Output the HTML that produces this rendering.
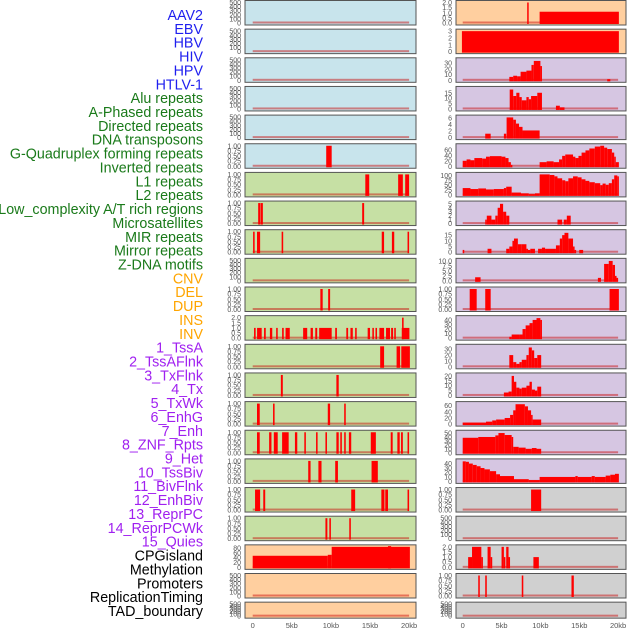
<!DOCTYPE html>
<html><head><meta charset="utf-8"><style>
body{margin:0;background:#fff;width:630px;height:630px;overflow:hidden}
svg{display:block}
text{font-family:"Liberation Sans",sans-serif}
</style></head><body>
<svg id="chart" width="630" height="630" xmlns="http://www.w3.org/2000/svg"></svg>
<script>
const labels=["AAV2","EBV","HBV","HIV","HPV","HTLV-1","Alu repeats","A-Phased repeats","Directed repeats","DNA transposons","G-Quadruplex forming repeats","Inverted repeats","L1 repeats","L2 repeats","Low_complexity A/T rich regions","Microsatellites","MIR repeats","Mirror repeats","Z-DNA motifs","CNV","DEL","DUP","INS","INV","1_TssA","2_TssAFlnk","3_TxFlnk","4_Tx","5_TxWk","6_EnhG","7_Enh","8_ZNF_Rpts","9_Het","10_TssBiv","11_BivFlnk","12_EnhBiv","13_ReprPC","14_ReprPCWk","15_Quies","CPGisland","Methylation","Promoters","ReplicationTiming","TAD_boundary"];
const labelGroups=[6,13,5,15,5];
const groupColors=["#1f1fef","#1a7a1a","#ffa500","#a020f0","#000000"];
const xTicks=[0,5,10,15,20];
const xTickLabels=["0","5kb","10kb","15kb","20kb"];
const T500=["0","100","200","300","400","500"];
const T1=["0.00","0.25","0.50","0.75","1.00"];
const T2=["0.0","0.5","1.0","1.5","2.0"];
const leftBg=["#c8e4ec","#c8e4ec","#c8e4ec","#c8e4ec","#c8e4ec","#c8e4ec","#c6e0a4","#c6e0a4","#c6e0a4","#c6e0a4","#c6e0a4","#c6e0a4","#c6e0a4","#c6e0a4","#c6e0a4","#c6e0a4","#c6e0a4","#c6e0a4","#c6e0a4","#ffcf9f","#ffcf9f","#ffcf9f"];
const rightBg=["#ffcf9f","#ffcf9f","#d6c6e2","#d6c6e2","#d6c6e2","#d6c6e2","#d6c6e2","#d6c6e2","#d6c6e2","#d6c6e2","#d6c6e2","#d6c6e2","#d6c6e2","#d6c6e2","#d6c6e2","#d6c6e2","#d6c6e2","#d0d0d0","#d0d0d0","#d0d0d0","#d0d0d0","#d0d0d0"];
const leftTicks=[T500,T500,T500,T500,T500,T1,T1,T1,T1,T500,T1,T2,T1,T1,T1,T1,T1,T1,T1,["0","20","40","60","80"],T500,T500];
const leftMax=[500,500,500,500,500,1,1,1,1,500,1,2,1,1,1,1,1,1,1,85,500,500];
const leftBars=[[],[],[],[],[],
[[9.4,10.1,1]],
[[14.4,14.9,1],[18.6,19.2,1],[19.5,20,1]],
[[0.7,0.95,1],[1.0,1.3,1],[14.0,14.25,1]],
[[0.05,0.25,1],[0.55,0.95,1],[3.7,3.9,1],[16.5,16.8,1],[17.8,18.1,1],[19.8,20,1]],
[],
[[8.65,8.95,1],[9.65,9.9,1]],
[[0.17,0.38,1],[0.56,1.15,1],[1.45,1.67,1],[2.2,2.5,1],[3.0,3.2,1],[3.76,3.97,1],[4.2,4.74,1],[6.45,6.97,1],[7.4,7.7,1],[8.0,8.25,1],[8.5,10.1,1],[10.55,10.77,1],[11.97,12.2,1],[12.5,12.8,1],[13.1,13.3,1],[14.7,15.0,1],[15.3,15.5,1],[15.7,15.9,1],[16.2,16.8,1],[17.05,17.56,1],[17.7,17.95,1],[18.1,18.3,1],[19.06,20.04,1],[19.1,19.3,2]],
[[16.3,16.8,1],[18.4,18.85,1],[19.0,20.1,1]],
[[3.6,3.85,1],[10.7,11.0,1]],
[[0.55,0.9,1],[2.6,2.8,1],[9.6,9.9,1],[11.7,11.9,1]],
[[0.55,0.9,1],[2.1,2.4,1],[2.7,3.2,1],[3.76,4.6,1],[5.4,5.7,1],[6.6,6.8,1],[8.1,8.3,1],[9.3,9.5,1],[10.7,11.0,1],[11.2,11.4,1],[11.7,11.9,1],[12.3,12.6,1],[15.1,15.75,1],[17.65,17.9,1],[18.5,18.8,1],[18.97,19.2,1],[19.8,20,1]],
[[7.1,7.4,1],[8.4,8.8,1],[10.55,10.9,1],[15.2,16.0,1]],
[[0.3,0.95,1],[1.35,1.6,1],[12.6,13.1,1],[16.45,16.85,1],[16.95,17.3,1],[19.8,20,1]],
[[9.3,9.55,1],[9.8,10.0,1],[12.35,12.55,1]],
[[0,9.6,48],[9.6,10.1,52],[10.1,20.1,85],[17.3,17.7,88]],
[],[]];
const rightTicks=[T2,["0","1","2","3"],["0","10","20","30"],["0","5","10","15"],["0","2","4","6"],["0","20","40","60"],["0","25","50","75","100"],["0","1","2","3","4","5"],["0","5","10","15"],["0.0","2.5","5.0","7.5","10.0"],T1,["0","10","20","30","40"],["0","10","20","30"],["0","5","10","15","20"],["0","20","40","60"],["0","10","20","30","40","50"],["0","10","20","30","40"],T1,T500,T2,T1,T500];
const rightMax=[2,3,36,19,6.3,75,105,5.2,18,10.3,1,45,35,21,67,52,46,1,500,2,1,500];
const rightBars=[
[[8.3,8.45,2],[9.9,20.1,1.1]],
[[-0.1,20.1,3]],
[[6.0,6.5,6],[6.5,7.0,8],[7.0,7.45,7],[7.45,8.2,15],[8.2,8.85,17],[8.85,9.15,27],[9.15,10.0,34],[10.0,10.2,25],[18.6,19.0,2]],
[[6.05,6.5,18],[6.5,6.9,12],[6.9,7.3,15],[7.3,7.6,11],[7.6,8.2,8],[8.2,8.5,11],[8.5,8.8,9],[8.8,9.6,12],[9.6,10.2,15],[12.0,12.5,3],[12.5,13.1,1.5]],
[[2.9,3.6,1.2],[5.3,5.6,1.2],[5.65,6.5,6.2],[6.5,6.85,5.5],[6.85,7.25,4.3],[7.25,7.7,3.3],[7.7,9.9,2.2]],
[[0,0.5,20],[0.5,1,25],[1,1.5,22],[1.5,2.5,30],[2.5,3,28],[3,3.5,35],[3.5,5,37],[5,5.5,35],[5.5,5.9,30],[5.9,6.2,15],[6.2,6.3,5],[9.9,10.8,15],[10.8,11.7,18],[11.7,12.4,15],[12.4,12.8,25],[12.8,13.2,38],[13.2,14.2,43],[14.2,14.5,35],[14.5,14.9,30],[14.9,15.3,38],[15.3,15.8,50],[15.8,16.3,58],[16.3,17.0,65],[17.0,17.7,72],[17.7,18.2,75],[18.2,18.6,68],[18.6,19.2,63],[19.2,19.5,50],[19.5,19.7,35],[19.7,20.1,15]],
[[0,1,35],[1,2,30],[2,3,33],[3,4,28],[4,5.3,30],[5.3,5.6,35],[5.6,6.3,42],[6.3,7.5,12],[7.5,8.5,8],[8.5,9.3,4],[9.3,9.9,8],[9.9,11.2,105],[11.2,11.8,102],[11.8,12.2,95],[12.2,12.8,85],[12.8,13.2,75],[13.2,13.6,70],[13.6,14.2,85],[14.2,14.8,95],[14.8,15.3,90],[15.3,15.8,80],[15.8,16.3,72],[16.3,17,65],[17,17.7,60],[17.7,18.0,50],[18.0,18.4,58],[18.4,18.8,52],[18.8,19.2,60],[19.2,19.5,80],[19.5,19.9,100],[19.9,20.1,95]],
[[2.9,3.1,1],[3.1,3.7,2],[3.7,4.2,1],[4.2,4.5,2],[4.5,4.8,4],[4.8,5.2,5],[5.2,5.6,3],[5.6,6.0,2],[12.2,12.8,1],[13.0,13.4,1],[13.4,13.9,2]],
[[0,0.2,2],[3.2,3.7,3],[5.6,6.0,3],[6.0,6.4,5],[6.4,6.6,10],[6.6,7.1,12],[7.1,7.6,7],[7.6,8.2,7],[8.2,8.4,3],[8.4,8.7,2],[8.7,9.3,3],[9.7,10.2,3],[10.2,10.6,4],[10.6,12.0,3],[12.0,12.5,6],[12.5,12.8,12],[12.8,13.1,15],[13.1,13.6,17],[13.6,14.2,12],[14.2,14.4,5],[14.4,14.6,2],[15.0,15.5,2]],
[[1.6,2.3,1.8],[17.4,17.8,1.5],[18.2,18.8,8.5],[18.8,19.3,10],[19.3,19.6,8],[19.6,19.8,2.5],[19.8,20,1.5]],
[[0.9,1.8,1],[2.9,3.6,1],[18.9,20.1,1]],
[[6.0,6.3,3],[6.3,7.3,8],[7.3,7.7,8],[7.7,8.1,20],[8.1,8.6,28],[8.6,9.0,33],[9.0,9.5,40],[9.5,10.0,44],[10.0,10.2,40]],
[[6.0,6.5,20],[6.5,6.9,8],[6.9,7.3,5],[7.3,7.6,8],[7.6,8.2,12],[8.2,8.5,20],[8.5,8.9,33],[8.9,9.2,28],[9.2,9.6,15],[9.6,10.1,20]],
[[5.3,5.9,3],[5.9,6.3,4],[6.3,6.6,20],[6.6,6.9,14],[6.9,7.3,8],[7.3,7.6,7],[7.6,8.2,8],[8.2,8.6,10],[8.6,8.9,14],[8.9,9.3,6],[9.3,9.6,5],[9.6,10.1,9]],
[[0,3,5],[3,3.8,8],[3.8,4.3,12],[4.3,5.4,15],[5.4,6.1,20],[6.1,6.5,30],[6.5,6.8,45],[6.8,8.0,65],[8.0,8.4,58],[8.4,8.8,45],[8.8,9.0,30],[9.0,10.1,15]],
[[0,2.0,38],[2.0,4.2,40],[4.2,4.6,44],[4.6,5.4,50],[5.4,6.3,45],[6.3,6.5,40],[6.5,7.2,15],[7.2,8.1,13],[8.1,8.9,10],[8.9,9.5,12],[9.5,10.1,10]],
[[0,0.4,45],[0.4,0.8,44],[0.8,1.3,40],[1.3,1.8,37],[1.8,2.3,34],[2.3,2.8,30],[2.8,3.5,27],[3.5,4.3,23],[4.3,4.8,16],[4.8,6.6,12],[6.6,8.5,5],[8.5,9.9,3],[9.9,14.5,10],[14.5,14.8,12],[14.8,16.6,10],[16.6,17.0,12],[17.0,18.4,10],[18.4,19.0,13],[19.0,19.6,15],[19.6,20.1,17]],
[[8.8,10.1,1]],
[],
[[0.7,1.2,1],[1.2,2.4,2],[2.4,2.6,1],[3.2,3.6,2],[3.6,3.8,1],[5.0,5.3,2],[5.3,5.4,1],[5.6,5.9,2],[5.9,6.0,1],[9.1,9.8,1]],
[[2.0,2.2,1],[2.9,3.1,1],[7.6,7.8,1],[14.0,14.3,1]],
[]];

const svg=document.getElementById('chart');
const NS="http://www.w3.org/2000/svg";
function mk(tag,attrs){const e=document.createElementNS(NS,tag);for(const k in attrs)e.setAttribute(k,attrs[k]);svg.appendChild(e);return e;}
let li=0;
labelGroups.forEach((n,g)=>{for(let k=0;k<n;k++){const t=mk('text',{x:203,y:15+li*13.86+5,'text-anchor':'end','font-size':14.3,fill:groupColors[g]});t.textContent=labels[li];


li++;}});
const sides=[{x0:245,x1:416,zero:252.7,sc:7.82,tx:241,bg:leftBg,ticks:leftTicks,max:leftMax,bars:leftBars,nm:'left'},
{x0:456,x1:626,zero:462.7,sc:7.77,tx:452,bg:rightBg,ticks:rightTicks,max:rightMax,bars:rightBars,nm:'right'}];
sides.forEach(s=>{
  const xs=kb=>s.zero+kb*s.sc;
  for(let i=0;i<22;i++){
    const top=i*28.65+0.5, h=(i==21?16:24.5);
    const r=mk('rect',{x:s.x0,y:top,width:s.x1-s.x0,height:h,fill:s.bg[i],stroke:'#555','stroke-width':1});
    
    
    const y0=top+h-2, yt=top+2;
    const ys=v=>y0-(v/s.max[i])*(y0-yt);
    const bl=mk('rect',{x:xs(0),y:y0-1.5,width:xs(20)-xs(0),height:2,fill:'rgba(200,0,0,0.45)'});
    
    
    s.bars[i].forEach(b=>{
      const yy=Math.max(top+0.5,ys(b[2]));
      const br=mk('rect',{x:xs(b[0]),y:yy,width:Math.max(1.5,xs(b[1])-xs(b[0])),height:y0-yy+1,fill:'#ff0000'});
      
      
    });
    const tk=s.ticks[i], n=tk.length;
    tk.forEach((lab,j)=>{
      const v=(j/(n-1))*parseFloat(tk[n-1]);
      const t=mk('text',{x:s.tx,y:ys(v)+2.5,'text-anchor':'end','font-size':7,fill:'#555'});
      t.textContent=lab;
      
      
    });
  }
  xTicks.forEach((k,j)=>{
    const t=mk('text',{x:xs(k),y:628,'text-anchor':'middle','font-size':7.5,fill:'#555'});
    t.textContent=xTickLabels[j];
    
    
  });
});
</script>
</body></html>
